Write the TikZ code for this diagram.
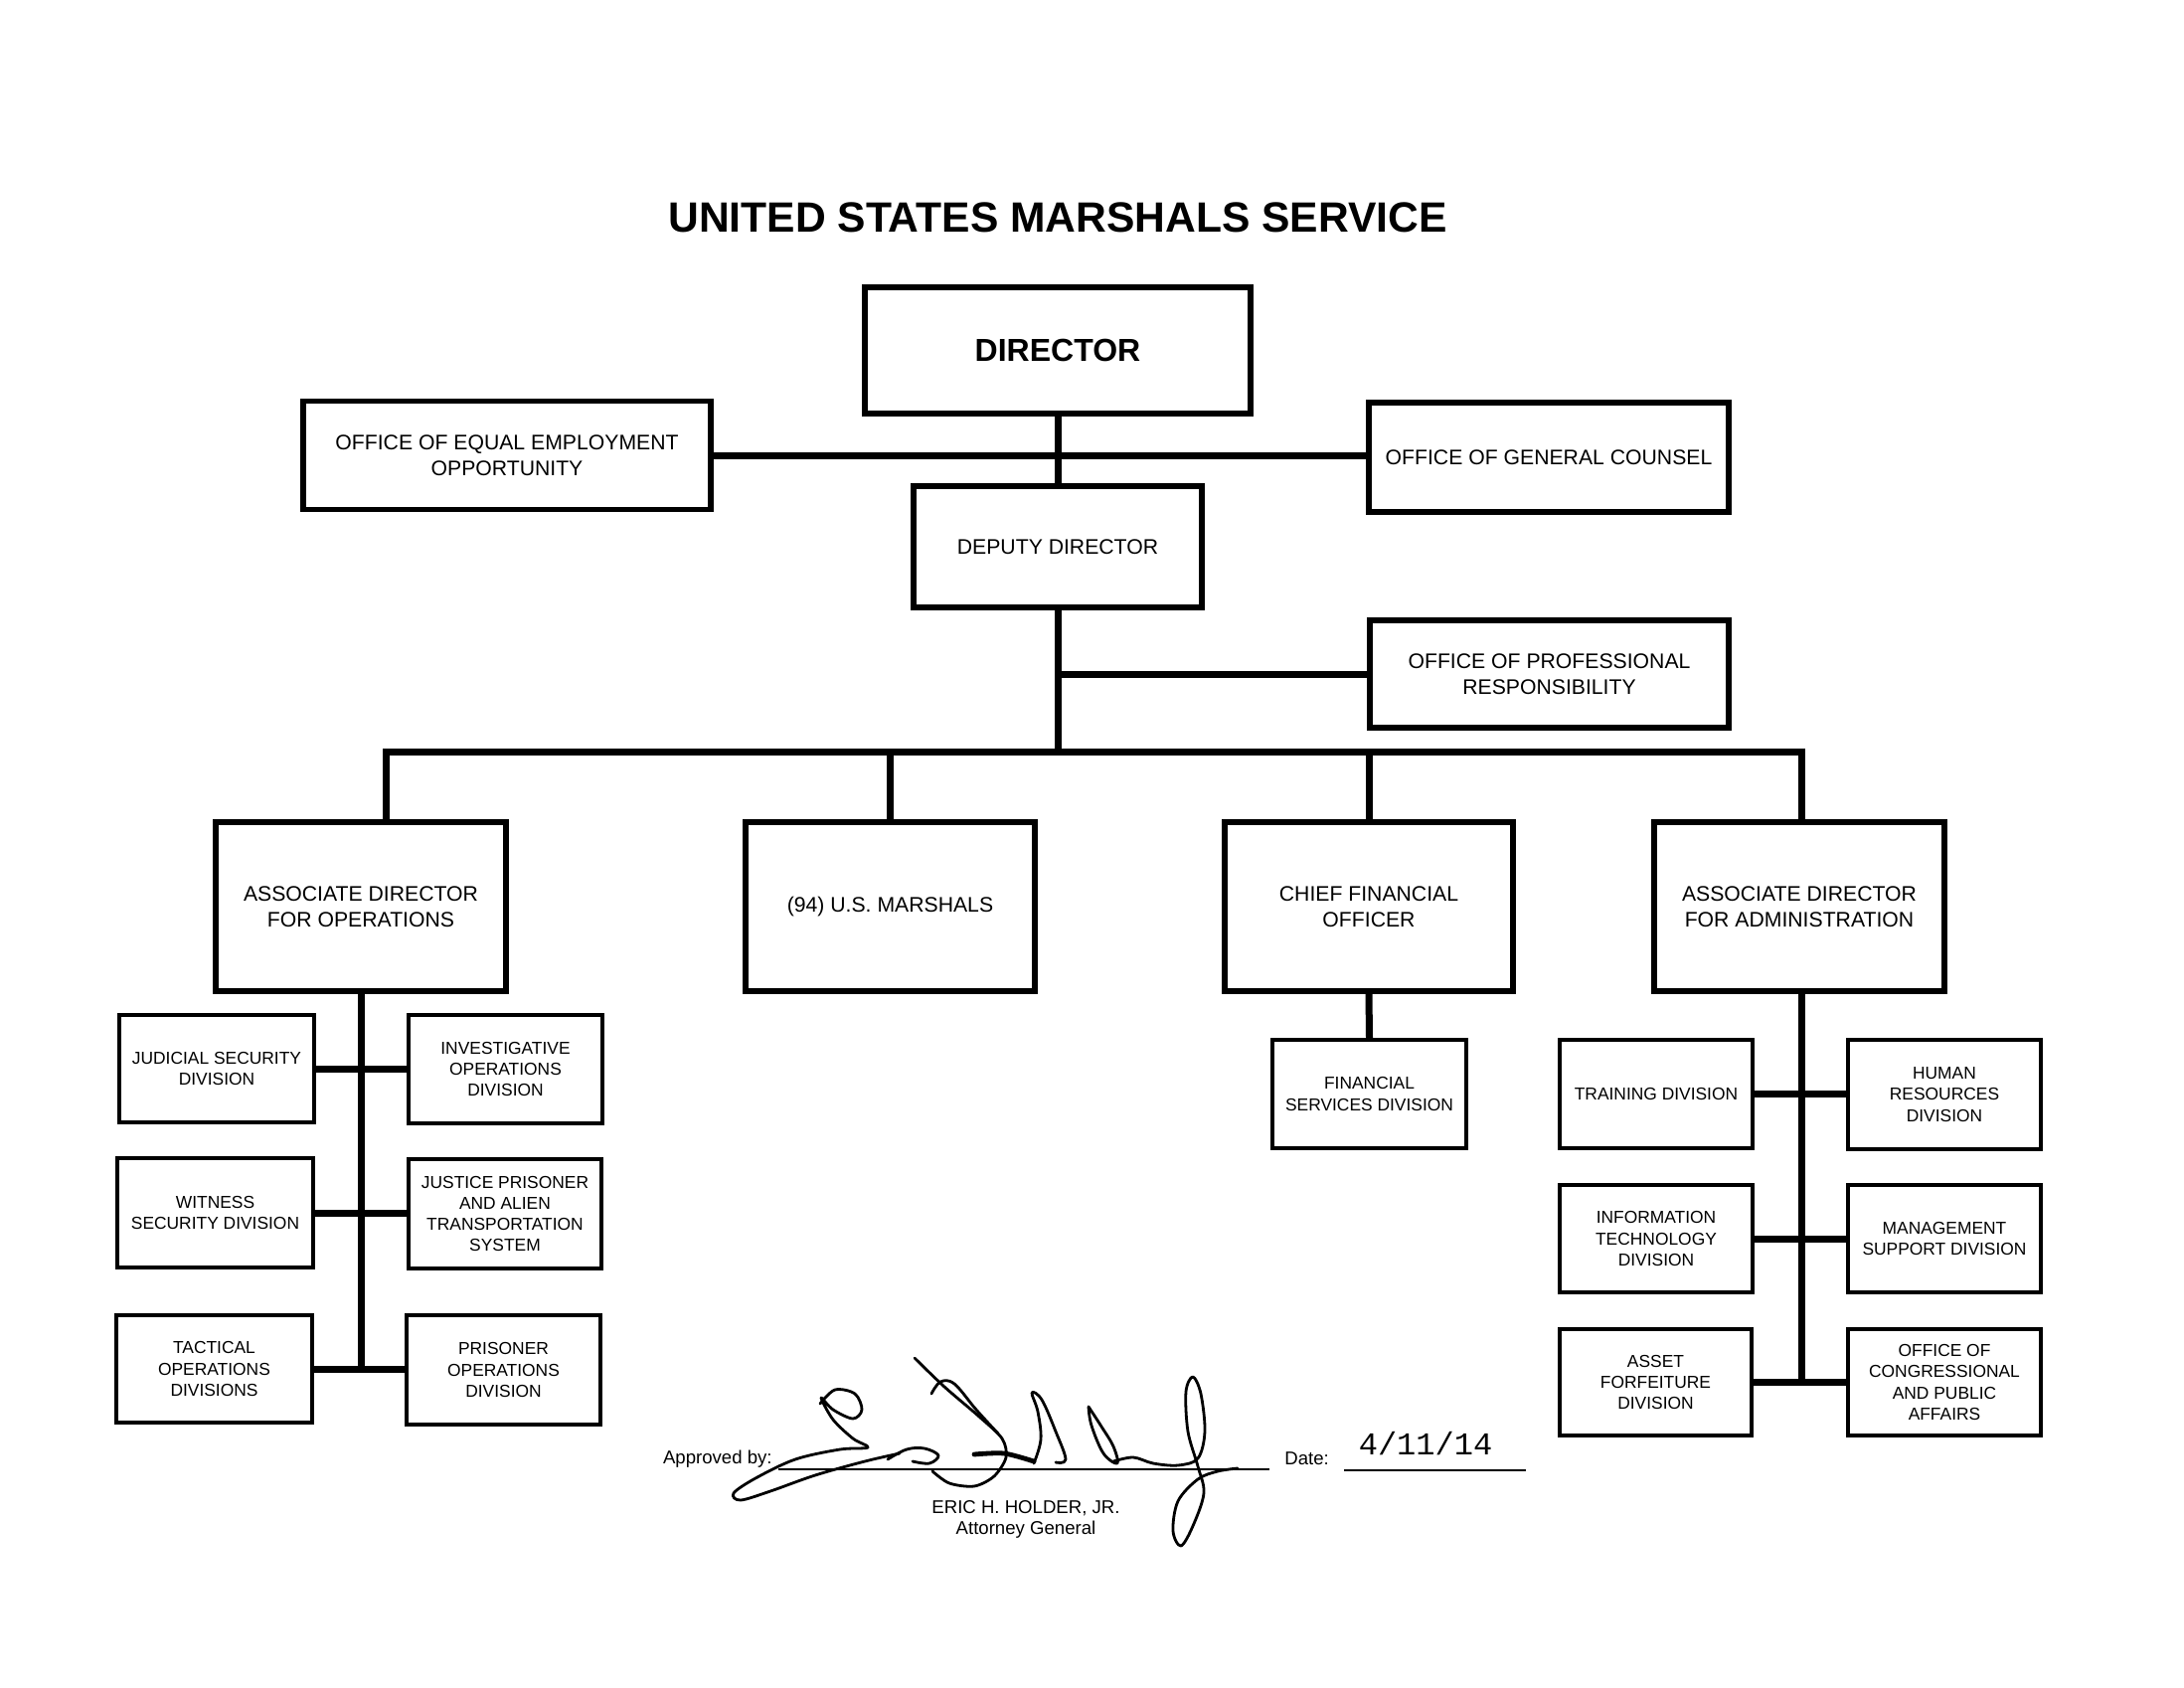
\documentclass[tikz,border=0pt]{standalone}
\usepackage{fontspec}
\setmainfont{Liberation Sans}
\newfontfamily\datefont{Liberation Mono}
\usetikzlibrary{backgrounds}
\begin{document}
\begin{tikzpicture}[x=0.5pt,y=-0.5pt,
  box/.style={draw, line width=2.8pt, fill=white, inner sep=0pt, align=center,
    font=\fontsize{10.6}{13.3}\selectfont},
  sbox/.style={draw, line width=2.4pt, fill=white, inner sep=0pt, align=center,
    font=\fontsize{8.7}{10.6}\selectfont},
  conn/.style={line width=3.5pt, line cap=rect},
  sig/.style={line width=1.4pt, line cap=round, line join=round},
  lbl/.style={inner sep=0pt, anchor=base, font=\fontsize{9.3}{11}\selectfont},
]
\useasboundingbox (0,0) rectangle (2197,1698);

% title
\node[inner sep=0pt, anchor=base, font=\fontsize{21.3}{25}\selectfont\bfseries] (title) at (1064,233) {UNITED STATES MARSHALS SERVICE};

% top level
\node[box, minimum width=194pt, minimum height=63.5pt] (dir) at (1064,352.5) {\fontsize{16}{19}\selectfont\bfseries DIRECTOR};
\node[box, minimum width=205pt, minimum height=54.5pt] (oeeo) at (510,458) {OFFICE OF EQUAL EMPLOYMENT\\OPPORTUNITY};
\node[box, minimum width=181pt, minimum height=55pt] (ogc) at (1558,460) {OFFICE OF GENERAL COUNSEL};
\node[box, minimum width=145pt, minimum height=61pt] (dep) at (1064,550) {DEPUTY DIRECTOR};
\node[box, minimum width=180.5pt, minimum height=54pt] (opr) at (1558.5,678) {OFFICE OF PROFESSIONAL\\RESPONSIBILITY};

% second level
\node[box, minimum width=146pt, minimum height=85pt] (ado) at (363,912) {ASSOCIATE DIRECTOR\\FOR OPERATIONS};
\node[box, minimum width=145.5pt, minimum height=85pt] (mar) at (895.5,912) {(94) U.S. MARSHALS};
\node[box, minimum width=145pt, minimum height=85pt] (cfo) at (1377,912) {CHIEF FINANCIAL\\OFFICER};
\node[box, minimum width=146pt, minimum height=85pt] (ada) at (1810,912) {ASSOCIATE DIRECTOR\\FOR ADMINISTRATION};

% operations divisions
\node[sbox, minimum width=98pt, minimum height=54pt] (jsd) at (218,1075) {JUDICIAL SECURITY\\DIVISION};
\node[sbox, minimum width=98.5pt, minimum height=55pt] (wsd) at (216.5,1220) {WITNESS\\SECURITY DIVISION};
\node[sbox, minimum width=98.5pt, minimum height=54pt] (tod) at (215.5,1377) {TACTICAL\\OPERATIONS\\DIVISIONS};
\node[sbox, minimum width=97.5pt, minimum height=54.5pt] (iod) at (508.5,1075.5) {INVESTIGATIVE\\OPERATIONS\\DIVISION};
\node[sbox, minimum width=97pt, minimum height=55pt] (jpats) at (508,1221) {JUSTICE PRISONER\\AND ALIEN\\TRANSPORTATION\\SYSTEM};
\node[sbox, minimum width=97.5pt, minimum height=55pt] (pod) at (506.5,1378) {PRISONER\\OPERATIONS\\DIVISION};

% financial
\node[sbox, minimum width=97.5pt, minimum height=54.5pt] (fsd) at (1377.5,1100.5) {FINANCIAL\\SERVICES DIVISION};

% administration divisions
\node[sbox, minimum width=97pt, minimum height=54.5pt] (trd) at (1666,1100.5) {TRAINING DIVISION};
\node[sbox, minimum width=97pt, minimum height=55pt] (hrd) at (1956,1101) {HUMAN\\RESOURCES\\DIVISION};
\node[sbox, minimum width=97pt, minimum height=54pt] (itd) at (1666,1246) {INFORMATION\\TECHNOLOGY\\DIVISION};
\node[sbox, minimum width=97pt, minimum height=54pt] (msd) at (1956,1246) {MANAGEMENT\\SUPPORT DIVISION};
\node[sbox, minimum width=96.5pt, minimum height=53.5pt] (afd) at (1665.5,1390.5) {ASSET\\FORFEITURE\\DIVISION};
\node[sbox, minimum width=97pt, minimum height=53.5pt] (ocpa) at (1956,1390.5) {OFFICE OF\\CONGRESSIONAL\\AND PUBLIC\\AFFAIRS};

\coordinate (busL) at (388,756);
\coordinate (busR) at (1812,756);

\begin{pgfonlayer}{background}
  \draw[conn] (dir.south) -- (dep.north);
  \draw[conn] (oeeo.east) -- (oeeo.east -| ogc.west);
  \draw[conn] (dep.south) -- (dep.south |- busL);
  \draw[conn] (dep.south |- opr.west) -- (opr.west);
  \draw[conn] (busL) -- (busR);
  \draw[conn] (busL) -- (busL |- ado.north);
  \draw[conn] (mar.north |- busL) -- (mar.north);
  \draw[conn] (cfo.north |- busL) -- (cfo.north);
  \draw[conn] (busR) -- (busR |- ada.north);
  % operations
  \draw[conn] (ado.south) -- (ado.south |- tod.east);
  \draw[conn] (jsd.east) -- (jsd.east -| iod.west);
  \draw[conn] (wsd.east) -- (wsd.east -| jpats.west);
  \draw[conn] (tod.east) -- (tod.east -| pod.west);
  % finance
  \draw[conn] (cfo.south) -- (fsd.north);
  % administration
  \draw[conn] (ada.south -| busR) -- (busR |- afd.east);
  \draw[conn] (trd.east) -- (trd.east -| hrd.west);
  \draw[conn] (itd.east) -- (itd.east -| msd.west);
  \draw[conn] (afd.east) -- (afd.east -| ocpa.west);
\end{pgfonlayer}

% approval block
\node[lbl, anchor=base east] (appr) at (777,1472) {Approved by:};
\node[lbl, anchor=base west] (datel) at (1292,1473) {Date:};
\node[inner sep=0pt, anchor=base, font=\datefont\fontsize{16}{18}\selectfont] (dateval) at (1434,1463) {4/11/14};
\node[lbl] (name) at (1032,1522) {ERIC H. HOLDER, JR.};
\node[lbl] (role) at (1032,1543) {Attorney General};
\draw[line width=1pt] (783,1478) -- (1277,1478);
\draw[line width=1pt] (1352,1479) -- (1535,1479);

% signature
\draw[sig] plot[smooth, tension=0.55] coordinates {(825,1412) (840,1398) (860,1402) (867,1418) (858,1427) (838,1418) (826,1406) (838,1428) (858,1447) (873,1456) (845,1458) (800,1468) (760,1487) (738,1502) (745,1509) (775,1500) (820,1484) (870,1470) (905,1462)};
\draw[sig] plot[smooth, tension=0.6] coordinates {(893,1468) (912,1458) (930,1457) (944,1464) (935,1472) (918,1470)};
\draw[sig] plot[smooth, tension=0.5] coordinates {(920,1366) (950,1395) (985,1425) (1008,1447) (1012,1466) (1000,1485) (980,1495) (955,1492) (938,1480)};
\draw[sig] plot[smooth, tension=0.6] coordinates {(937,1402) (946,1390) (960,1392) (982,1418) (1004,1442)};
\draw[sig, line width=2.4pt] plot[smooth, tension=0.5] coordinates {(980,1463) (1010,1462) (1040,1470)};
\draw[sig] plot[smooth, tension=0.6] coordinates {(1040,1472) (1047,1448) (1044,1420) (1038,1401) (1048,1408) (1062,1440) (1072,1468) (1062,1471)};
\draw[sig] plot[smooth, tension=0.6] coordinates {(1095,1415) (1108,1435) (1120,1455) (1124,1472) (1110,1462) (1098,1434) (1095,1415)};
\draw[sig] plot[smooth, tension=0.55] coordinates {(1120,1470) (1140,1466) (1160,1472) (1185,1474) (1205,1467) (1212,1440) (1208,1402) (1200,1385) (1193,1400) (1195,1440) (1205,1475) (1211,1502) (1200,1535) (1188,1555) (1180,1540) (1185,1510) (1205,1488) (1225,1480) (1245,1477)};
\end{tikzpicture}
\end{document}
